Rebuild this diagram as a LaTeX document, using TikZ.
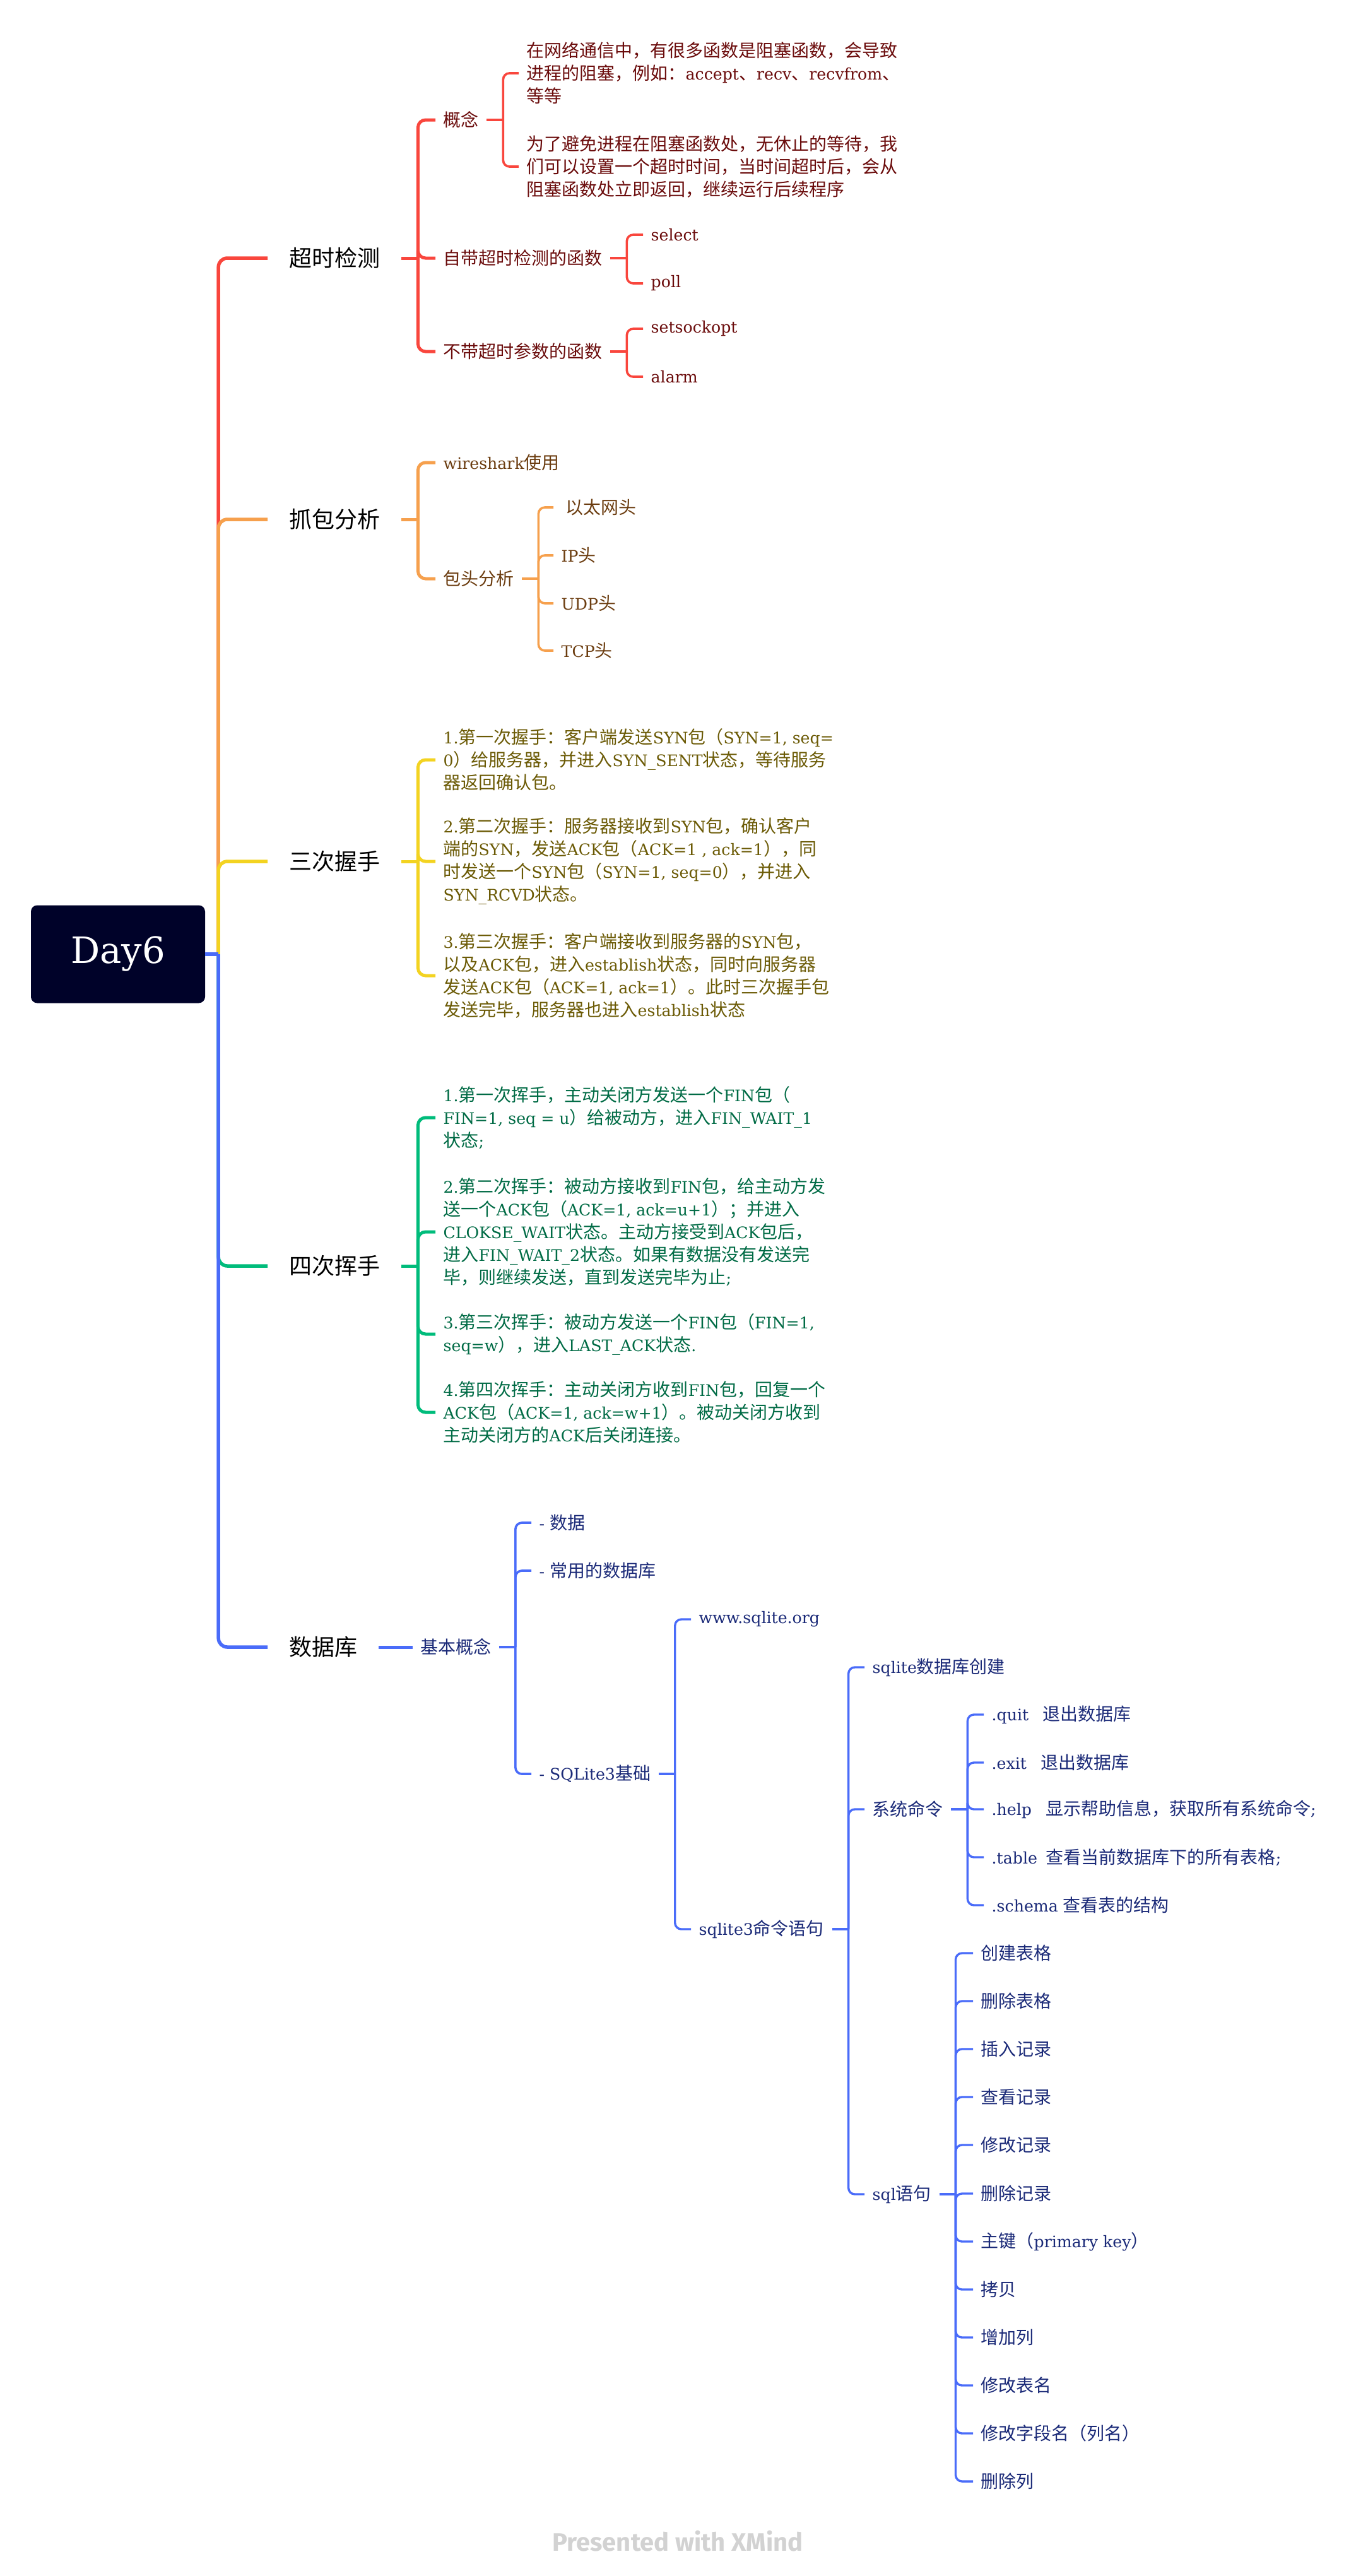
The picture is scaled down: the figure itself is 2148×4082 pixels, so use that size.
\documentclass[tikz,border=0pt]{standalone}
\usepackage{fontspec}
\setmainfont{DejaVu Serif}[Scale=0.9]
\newfontfamily\cjkfont{Noto Sans CJK SC}
\newfontfamily\wmfont{Fira Sans}
\usetikzlibrary{calc}
\XeTeXinterchartokenstate=1
\newXeTeXintercharclass\mmcjk
\newcount\mmcnt
\def\mmrange#1#2{\mmcnt=#1\relax\loop\XeTeXcharclass\mmcnt=\mmcjk\relax\ifnum\mmcnt<#2\relax\advance\mmcnt by 1\relax\repeat}
\mmrange{"3000}{"303F}
\mmrange{"4E00}{"9FFF}
\mmrange{"FF00}{"FFEF}
\XeTeXinterchartoks 0 \mmcjk = {\cjkfont}
\XeTeXinterchartoks 4095 \mmcjk = {\cjkfont}
\XeTeXinterchartoks \mmcjk 0 = {\rmfamily}
\XeTeXinterchartoks \mmcjk 4095 = {\rmfamily}
\definecolor{redL}{HTML}{F9463D}
\definecolor{orangeL}{HTML}{F6A04D}
\definecolor{yellowL}{HTML}{F3D321}
\definecolor{greenL}{HTML}{00BC7B}
\definecolor{blueL}{HTML}{4A6CF9}
\definecolor{redT}{HTML}{6B0C0C}
\definecolor{orangeT}{HTML}{6B3C0F}
\definecolor{yellowT}{HTML}{6B5A05}
\definecolor{greenT}{HTML}{006B45}
\definecolor{blueT}{HTML}{1B2A78}
\definecolor{rootc}{HTML}{000229}
\definecolor{wmgray}{HTML}{D2D2D2}
\newcommand\mmkids[3]{%
  \draw[#1] (#2.east) -- ++(26,0) coordinate (#2-s);
  \foreach \kk in {#3}{\draw[#1] (#2-s) |- (\kk.west);}
}
\begin{document}
\begin{tikzpicture}[x=1pt,y=-1pt,
  rootbox/.style={fill=rootc, rounded corners=10pt, minimum width=276pt, minimum height=155pt, inner sep=0pt, text=white, font=\fontsize{64}{70}\selectfont},
  lone/.style={anchor=west, inner xsep=34pt, inner ysep=0pt, text=black, font=\fontsize{36}{44}\selectfont},
  ltwo/.style={anchor=west, inner xsep=12.5pt, inner ysep=0pt, align=left, font=\fontsize{28}{36}\selectfont},
  mainln/.style={line width=5.5pt, rounded corners=14pt},
  twoln/.style={line width=5pt, rounded corners=12pt},
  threeln/.style={line width=3.6pt, rounded corners=10pt},
  fourln/.style={line width=3.4pt, rounded corners=10pt},
  wm/.style={text=wmgray, font=\wmfont\bfseries\fontsize{40}{44}\selectfont}
]
\fill[white] (0,0) rectangle (2148,4082);
\useasboundingbox (0,0) rectangle (2148,4082);

% root
\node[rootbox] (root) at (187,1512) {Day6};

% level 1
\node[lone] (b1) at (424,409) {超时检测};
\node[lone] (b2) at (424,823) {抓包分析};
\node[lone] (b3) at (424,1365) {三次握手};
\node[lone] (b4) at (424,2006) {四次挥手};
\node[lone] (b5) at (424,2610) {数据库};

% branch 1
\begin{scope}[every node/.append style={text=redT}]
\node[ltwo] (b1a) at (690,190) {概念};
\node[ltwo] (b1a1) at (822,116) {在网络通信中，有很多函数是阻塞函数，会导致\\进程的阻塞，例如：accept、recv、recvfrom、\\等等};
\node[ltwo] (b1a2) at (822,264) {为了避免进程在阻塞函数处，无休止的等待，我\\们可以设置一个超时时间，当时间超时后，会从\\阻塞函数处立即返回，继续运行后续程序};
\node[ltwo] (b1b) at (690,409) {自带超时检测的函数};
\node[ltwo] (b1b1) at (1019,372) {select};
\node[ltwo] (b1b2) at (1019,449) {poll};
\node[ltwo] (b1c) at (690,557) {不带超时参数的函数};
\node[ltwo] (b1c1) at (1019,521) {setsockopt};
\node[ltwo] (b1c2) at (1019,597) {alarm};
\end{scope}

% branch 2
\begin{scope}[every node/.append style={text=orangeT}]
\node[ltwo] (b2a) at (690,733) {wireshark使用};
\node[ltwo] (b2b) at (690,917) {包头分析};
\node[ltwo] (b2b1) at (877,804) {\hspace*{7pt}以太网头};
\node[ltwo] (b2b2) at (877,880) {IP头};
\node[ltwo] (b2b3) at (877,956) {UDP头};
\node[ltwo] (b2b4) at (877,1031) {TCP头};
\end{scope}

% branch 3
\begin{scope}[every node/.append style={text=yellowT}]
\node[ltwo] (b3a) at (690,1204) {1.第一次握手：客户端发送SYN包（SYN=1, seq=\\0）给服务器，并进入SYN\_SENT状态，等待服务\\器返回确认包。};
\node[ltwo] (b3b) at (690,1365) {2.第二次握手：服务器接收到SYN包，确认客户\\端的SYN，发送ACK包（ACK=1 , ack=1），同\\时发送一个SYN包（SYN=1, seq=0），并进入\\SYN\_RCVD状态。};
\node[ltwo] (b3c) at (690,1546) {3.第三次握手：客户端接收到服务器的SYN包，\\以及ACK包，进入establish状态，同时向服务器\\发送ACK包（ACK=1, ack=1）。此时三次握手包\\发送完毕，服务器也进入establish状态};
\end{scope}

% branch 4
\begin{scope}[every node/.append style={text=greenT}]
\node[ltwo] (b4a) at (690,1771) {1.第一次挥手，主动关闭方发送一个FIN包（\\FIN=1, seq = u）给被动方，进入FIN\_WAIT\_1\\状态;};
\node[ltwo] (b4b) at (690,1952) {2.第二次挥手：被动方接收到FIN包，给主动方发\\送一个ACK包（ACK=1, ack=u+1）；并进入\\CLOKSE\_WAIT状态。主动方接受到ACK包后，\\进入FIN\_WAIT\_2状态。如果有数据没有发送完\\毕，则继续发送，直到发送完毕为止;};
\node[ltwo] (b4c) at (690,2114) {3.第三次挥手：被动方发送一个FIN包（FIN=1,\\seq=w），进入LAST\_ACK状态.};
\node[ltwo] (b4d) at (690,2238) {4.第四次挥手：主动关闭方收到FIN包，回复一个\\ACK包（ACK=1, ack=w+1）。被动关闭方收到\\主动关闭方的ACK后关闭连接。};
\end{scope}

% branch 5
\begin{scope}[every node/.append style={text=blueT}]
\node[ltwo] (b5a) at (653.5,2610) {基本概念};
\node[ltwo] (b5a1) at (842,2413) {- 数据};
\node[ltwo] (b5a2) at (842,2489) {- 常用的数据库};
\node[ltwo] (b5a3) at (842,2811) {- SQLite3基础};
\node[ltwo] (c1) at (1095,2566) {www.sqlite.org};
\node[ltwo] (c2) at (1095,3057) {sqlite3命令语句};
\node[ltwo] (d1) at (1370,2642) {sqlite数据库创建};
\node[ltwo] (d2) at (1370,2867) {系统命令};
\node[ltwo] (d3) at (1370,3477) {sql语句};
\node[ltwo] (e1) at (1559,2717) {.quit\hspace{22pt}退出数据库};
\node[ltwo] (e2) at (1559,2793) {.exit\hspace{22pt}退出数据库};
\node[ltwo] (e3) at (1559,2867) {.help\hspace{22pt}显示帮助信息，获取所有系统命令;};
\node[ltwo] (e4) at (1559,2943) {.table\hspace{14pt}查看当前数据库下的所有表格;};
\node[ltwo] (e5) at (1559,3019) {.schema 查看表的结构};
\node[ltwo] (s1) at (1542,3095) {创建表格};
\node[ltwo] (s2) at (1542,3171) {删除表格};
\node[ltwo] (s3) at (1542,3247) {插入记录};
\node[ltwo] (s4) at (1542,3323) {查看记录};
\node[ltwo] (s5) at (1542,3399) {修改记录};
\node[ltwo] (s6) at (1542,3476) {删除记录};
\node[ltwo] (s7) at (1542,3552) {主键（primary key）};
\node[ltwo] (s8) at (1542,3628) {拷贝};
\node[ltwo] (s9) at (1542,3704) {增加列};
\node[ltwo] (s10) at (1542,3780) {修改表名};
\node[ltwo] (s11) at (1542,3856) {修改字段名（列名）};
\node[ltwo] (s12) at (1542,3932) {删除列};
\end{scope}

% main connectors
\coordinate (ms) at ($(root.east)+(21,0)$);
\draw[mainln, redL] (ms) |- (b1.west);
\draw[mainln, orangeL] (ms) |- (b2.west);
\draw[mainln, yellowL] (ms) |- (b3.west);
\draw[mainln, greenL] (ms) |- (b4.west);
\draw[mainln, blueL] (ms) |- (b5.west);
\draw[mainln, blueL] (root.east) -- (ms);

% branch connectors
\mmkids{twoln,redL}{b1}{b1a,b1b,b1c}
\mmkids{threeln,redL}{b1a}{b1a1,b1a2}
\mmkids{threeln,redL}{b1b}{b1b1,b1b2}
\mmkids{threeln,redL}{b1c}{b1c1,b1c2}
\mmkids{twoln,orangeL}{b2}{b2a,b2b}
\mmkids{threeln,orangeL}{b2b}{b2b1,b2b2,b2b3,b2b4}
\mmkids{twoln,yellowL}{b3}{b3a,b3b,b3c}
\mmkids{twoln,greenL}{b4}{b4a,b4b,b4c,b4d}
\draw[twoln, blueL] (b5.east) -- (b5a.west);
\mmkids{threeln,blueL}{b5a}{b5a1,b5a2,b5a3}
\mmkids{fourln,blueL}{b5a3}{c1,c2}
\mmkids{fourln,blueL}{c2}{d1,d2,d3}
\mmkids{fourln,blueL}{d2}{e1,e2,e3,e4,e5}
\mmkids{fourln,blueL}{d3}{s1,s2,s3,s4,s5,s6,s7,s8,s9,s10,s11,s12}

% watermark
\node[wm] (wmark) at (1074,4027) {Presented with XMind};
\end{tikzpicture}
\end{document}
